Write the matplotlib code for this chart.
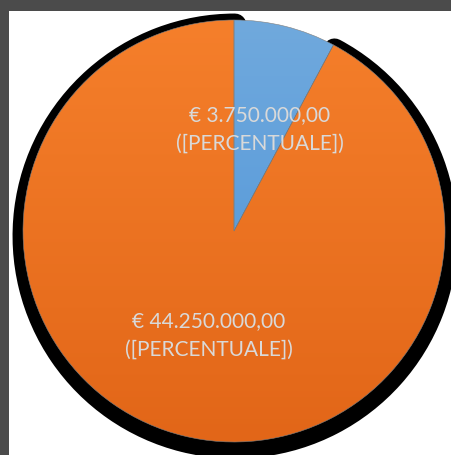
import numpy as np
import matplotlib
matplotlib.use('Agg')
import matplotlib.pyplot as plt
from matplotlib.colors import LinearSegmentedColormap

# data
values = [3750000, 44250000]
label_pos = [(260, 326), (209, 120)]   # text centres, pixel coords (y up)
top_colors = ['#70A9DD', '#F57F2B']
bottom_colors = ['#4A92D8', '#E26618']

W, H = 452, 455
pie_center = (234, 224)
pie_radius = 211


def euro(v):
    s = f"{v:,.2f}"
    s = s.replace(',', '#').replace('.', ',').replace('#', '.')
    return "€ " + s


fig = plt.figure(figsize=(W / 100, H / 100), dpi=100, facecolor='#4B4B4B')
ax = fig.add_axes([0, 0, 1, 1])
ax.set_xlim(0, W)
ax.set_ylim(0, H)
ax.axis('off')

# white chart area inside the dark frame
ax.add_patch(plt.Rectangle((9, 0), W - 9, H - 11, facecolor='white',
                           edgecolor='none', zorder=0))

# shadow: black copy of the pie, shifted down and fattened with a thick stroke
shadow, _ = ax.pie(values, center=(pie_center[0] + 1, pie_center[1] - 5),
                   radius=pie_radius, startangle=90, counterclock=False,
                   colors=['black', 'black'], frame=True,
                   wedgeprops=dict(edgecolor='black', linewidth=16.5,
                                   joinstyle='round', zorder=1))
shadow[0].set_visible(False)

wedges, _ = ax.pie(values, center=pie_center, radius=pie_radius,
                   startangle=90, counterclock=False, frame=True,
                   colors=top_colors,
                   wedgeprops=dict(edgecolor='#7F7F7F', linewidth=0.4,
                                   zorder=3))

# vertical gradient inside each slice
grad = np.linspace(0, 1, 256).reshape(-1, 1)
cy = pie_center[1]
for w, c0, c1 in zip(wedges, top_colors, bottom_colors):
    cmap = LinearSegmentedColormap.from_list('g', [c1, c0])
    im = ax.imshow(grad, cmap=cmap, origin='lower', aspect='auto',
                   extent=[pie_center[0] - pie_radius, pie_center[0] + pie_radius,
                           cy - pie_radius, cy + pie_radius], zorder=2)
    im.set_clip_path(w)
    w.set_facecolor('none')

for v, (x, y) in zip(values, label_pos):
    ax.text(x, y, euro(v) + "\n([PERCENTUALE])", ha='center', va='center',
            multialignment='center', color='#D9D9D9', fontsize=15,
            family='Lato', linespacing=1.55, zorder=4)

ax.set_xlim(0, W)
ax.set_ylim(0, H)
ax.set_aspect('auto')
fig.savefig('out.png', dpi=100, facecolor=fig.get_facecolor())
